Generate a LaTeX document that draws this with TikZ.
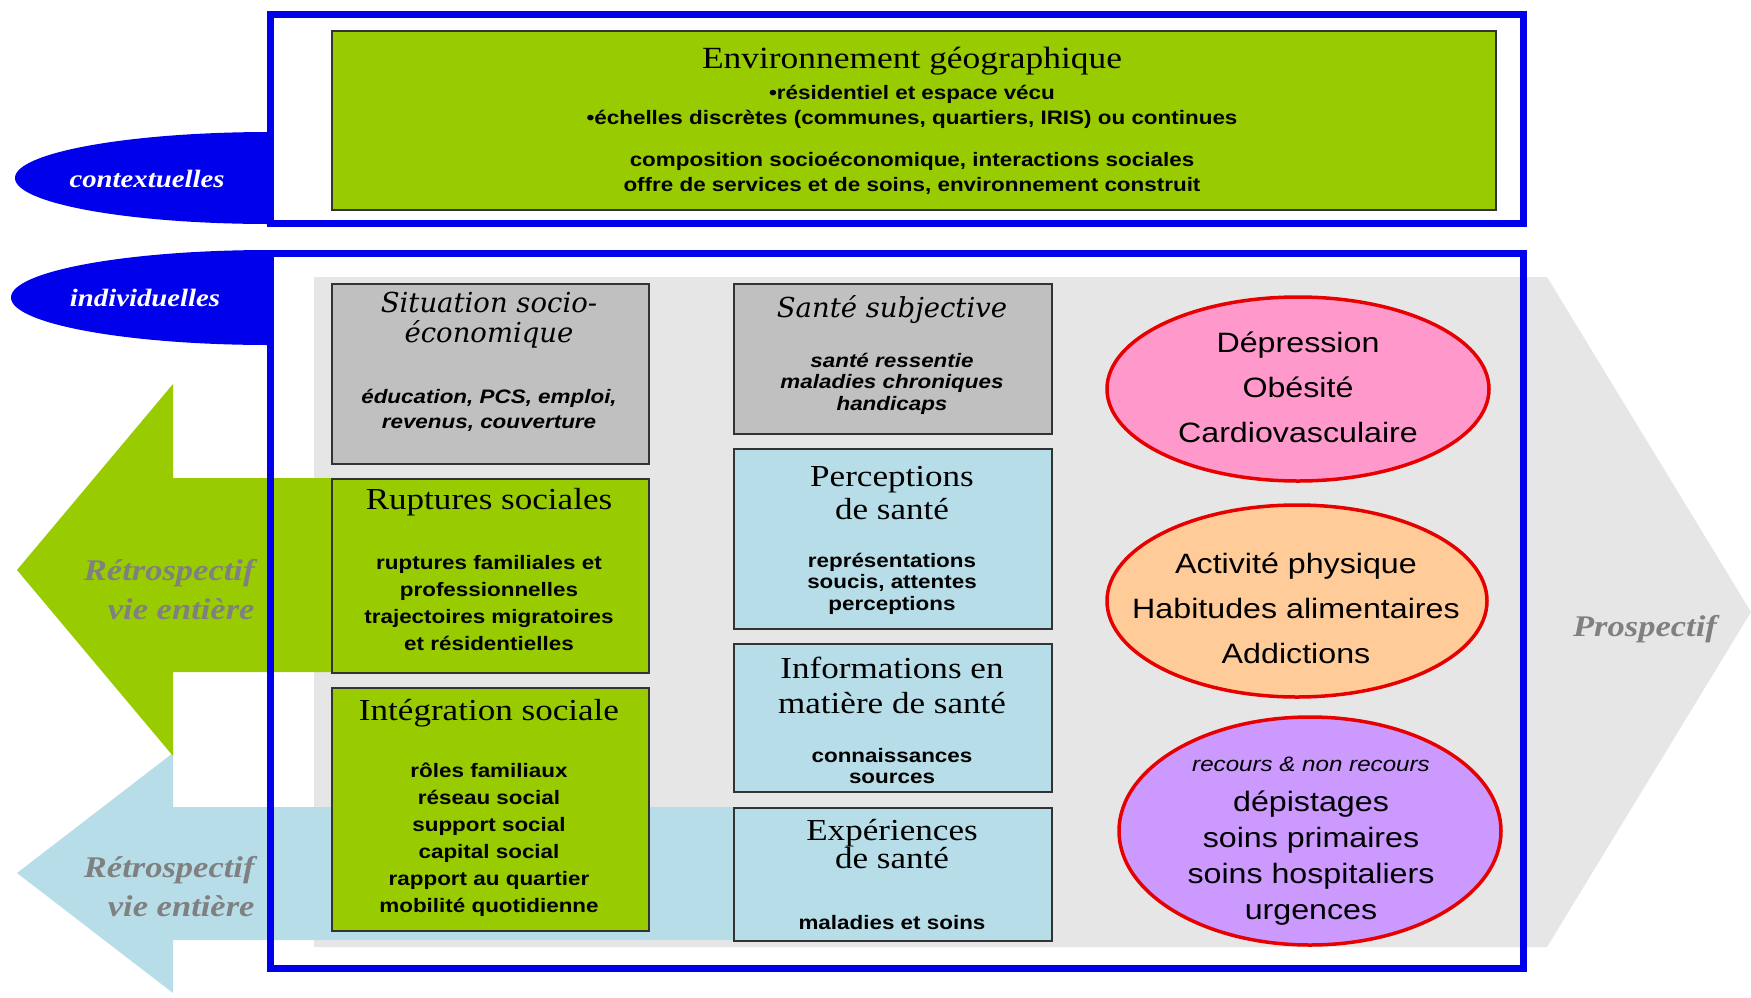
\documentclass[tikz,border=0pt]{standalone}
\usepackage{fontspec}
\setmainfont{Liberation Serif}
\newfontfamily\titlefont[FakeStretch=1.15]{Liberation Serif}
\newfontfamily\bodyfont[FakeStretch=1.15]{Liberation Sans}
\newfontfamily\slabfont{DejaVu Serif}
\usetikzlibrary{shapes.geometric,positioning}

\definecolor{framebl}{RGB}{0,0,235}
\definecolor{limegr}{RGB}{153,204,0}
\definecolor{boxgrey}{RGB}{192,192,192}
\definecolor{aqua}{RGB}{183,222,232}
\definecolor{panelgrey}{RGB}{230,230,230}
\definecolor{rosepk}{RGB}{255,153,204}
\definecolor{peach}{RGB}{255,204,153}
\definecolor{lilac}{RGB}{204,153,255}
\definecolor{ringred}{RGB}{230,0,0}
\definecolor{labelgrey}{RGB}{128,128,128}

\tikzset{
  frame/.style={draw=framebl, line width=7pt},
  card/.style={draw=black!80, line width=1.5pt, anchor=north west, inner sep=0pt},
  oval/.style={ellipse, draw=ringred, line width=3.5pt, inner sep=0pt},
  tag/.style={text=white, font={\titlefont\bfseries\itshape\fontsize{25}{28}\selectfont}},
  retro/.style={text=labelgrey, align=right, font={\titlefont\bfseries\itshape\fontsize{30}{39}\selectfont}},
  toptitle/.style={font={\titlefont\fontsize{30.8}{34}\selectfont}},
  topbody/.style={align=center, font={\bodyfont\bfseries\fontsize{19.5}{25}\selectfont}},
  coltitle/.style={align=center, font={\titlefont\fontsize{30.5}{33}\selectfont}},
  slabtitle/.style={align=center, font={\slabfont\itshape\fontsize{27.5}{30}\selectfont}},
  bodycol/.style={align=center, font={\bodyfont\bfseries\fontsize{19.5}{27}\selectfont}},
  bodytight/.style={align=center, font={\bodyfont\bfseries\fontsize{19.5}{21.5}\selectfont}},
  bodyit/.style={align=center, font={\bodyfont\bfseries\itshape\fontsize{19.5}{25}\selectfont}},
  ovaltxt/.style={align=center, font={\bodyfont\fontsize{28}{45}\selectfont}},
  recourse/.style={font={\bodyfont\itshape\fontsize{21}{24}\selectfont}}
}

% name, fill, x1, y1, x2, y2
\newcommand{\infocard}[6]{\node[card, fill=#2, minimum width={(#5-#3)*1pt}, minimum height={(#6-#4)*1pt}] (#1) at (#3,#4) {};}

\begin{document}
\begin{tikzpicture}[x=1pt,y=-1pt]
\useasboundingbox (0,0) rectangle (1751,997);
\fill[white] (0,0) rectangle (1751,997);

% grey panel and prospective chevron
\fill[panelgrey] (314,277) -- (1547,277) -- (1751,612) -- (1547,947) -- (314,947) -- cycle;

% retrospective arrows
\fill[aqua] (17,873) -- (173,753) -- (173,807) -- (733,807) -- (733,940) -- (173,940) -- (173,993) -- cycle;
\fill[limegr] (17,570) -- (173,384) -- (173,478) -- (331,478) -- (331,672) -- (173,672) -- (173,756) -- cycle;

% frames and their tabs
\draw[frame] (270,14) rectangle (1523,223);
\draw[frame] (270,253) rectangle (1523,968);
\fill[framebl] (270,132) arc[start angle=90, end angle=270, x radius=255pt, y radius=46pt] -- cycle;
\fill[framebl] (270,250) arc[start angle=90, end angle=270, x radius=259pt, y radius=47.5pt] -- cycle;
\node[tag] (ctx) at (147,179) {contextuelles};
\node[tag] (indiv) at (145,298) {individuelles};

% contextual box
\infocard{geo}{limegr}{331}{30}{1495}{209}
\node[toptitle] (geo-t) at (912,61) {Environnement géographique};
\node[topbody] (geo-a) at (912,106.5) {•résidentiel et espace vécu\\•échelles discrètes (communes, quartiers, IRIS) ou continues};
\node[topbody] (geo-b) at (912,173.5) {composition socioéconomique, interactions sociales\\offre de services et de soins, environnement construit};

% first column
\infocard{situation}{boxgrey}{331}{283}{648}{463}
\node[slabtitle] (situation-t) at (489,320) {Situation socio-\\économique};
\node[bodyit] (situation-b) at (489,410.5) {éducation, PCS, emploi,\\revenus, couverture};

\infocard{ruptures}{limegr}{331}{478}{648}{672}
\node[coltitle] (ruptures-t) at (489,502) {Ruptures sociales};
\node[bodycol] (ruptures-b) at (489,603) {ruptures familiales et\\professionnelles\\trajectoires migratoires\\et résidentielles};

\infocard{integration}{limegr}{331}{687}{648}{930}
\node[coltitle] (integration-t) at (489,713) {Intégration sociale};
\node[bodycol] (integration-b) at (489,839.5) {rôles familiaux\\réseau social\\support social\\capital social\\rapport au quartier\\mobilité quotidienne};

% second column
\infocard{subjective}{boxgrey}{733}{283}{1051}{433}
\node[slabtitle] (subjective-t) at (892,310) {Santé subjective};
\node[bodyit, font={\bodyfont\bfseries\itshape\fontsize{19.5}{21.5}\selectfont}] (subjective-b) at (892,383.5) {santé ressentie\\maladies chroniques\\handicaps};

\infocard{perception}{aqua}{733}{448}{1051}{628}
\node[coltitle] (perception-t) at (892,493.5) {Perceptions\\de santé};
\node[bodytight] (perception-b) at (892,583.5) {représentations\\soucis, attentes\\perceptions};

\infocard{information}{aqua}{733}{643}{1051}{791}
\node[coltitle, font={\titlefont\fontsize{30.5}{35}\selectfont}] (information-t) at (892,685.5) {Informations en\\matière de santé};
\node[bodytight] (information-b) at (892,766) {connaissances\\sources};

\infocard{experience}{aqua}{733}{807}{1051}{940}
\node[coltitle, font={\titlefont\fontsize{30.5}{28}\selectfont}] (experience-t) at (892,844) {Expériences\\de santé};
\node[bodytight] (experience-b) at (892,923) {maladies et soins};

% outcomes
\node[oval, fill=rosepk, minimum width=382pt, minimum height=184pt] (morbid) at (1298,389) {};
\node[ovaltxt] (morbid-t) at (1298,387) {Dépression\\Obésité\\Cardiovasculaire};
\node[oval, fill=peach, minimum width=380pt, minimum height=192pt] (habits) at (1297,601) {};
\node[ovaltxt] (habits-t) at (1296,608) {Activité physique\\Habitudes alimentaires\\Addictions};
\node[oval, fill=lilac, minimum width=382pt, minimum height=228pt] (care) at (1310,831) {};
\node[recourse] (care-r) at (1311,764) {recours \& non recours};
\node[ovaltxt, font={\bodyfont\fontsize{28}{36}\selectfont}] (care-t) at (1311,858.5) {dépistages\\soins primaires\\soins hospitaliers\\urgences};

% time labels
\node[retro, anchor=east] (retro-up) at (258,590) {Rétrospectif\\vie entière};
\node[retro, anchor=east] (retro-low) at (258,887) {Rétrospectif\\vie entière};
\node[retro] (prosp) at (1645,629) {Prospectif};
\end{tikzpicture}
\end{document}
